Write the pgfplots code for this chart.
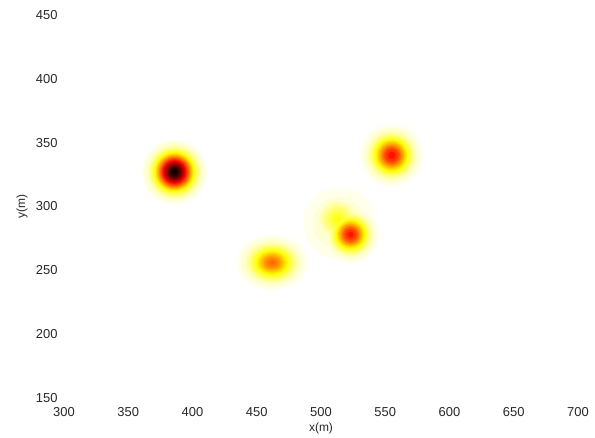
\documentclass[border=0pt]{standalone}
\usepackage{pgfplots}
\pgfplotsset{compat=1.18}
\usepackage{pgfplotstable}
\usepackage{fontspec}
\setmainfont{Liberation Sans}

% blob 1 (x y level radius-in-pt)
\pgfplotstableread{
x y v r
386 327 0.02 32.5
386 327 0.04 30.4
386 327 0.08 27.0
386 327 0.12 24.7
386 327 0.16 23.0
386 327 0.20 21.5
386 327 0.24 20.3
386 327 0.28 19.1
386 327 0.32 18.1
386 327 0.36 17.2
386 327 0.40 16.2
386 327 0.45 15.2
386 327 0.50 14.1
386 327 0.55 13.1
386 327 0.60 12.1
386 327 0.65 11.1
386 327 0.70 10.1
386 327 0.75 9.1
386 327 0.80 8.0
386 327 0.85 6.8
386 327 0.90 5.5
386 327 0.95 3.8
386 327 0.98 2.4
}\blobA

% blob 2
\pgfplotstableread{
x y v r
555 340 0.02 31.5
555 340 0.04 28.2
555 340 0.08 24.4
555 340 0.12 21.9
555 340 0.16 19.9
555 340 0.20 18.2
555 340 0.24 16.7
555 340 0.28 15.3
555 340 0.32 14.0
555 340 0.36 12.7
555 340 0.40 11.4
555 340 0.45 9.8
555 340 0.50 8.2
555 340 0.55 6.3
555 340 0.60 3.7
}\blobB

% blob 3 (broad halo + secondary bump + main peak), sorted by level
\pgfplotstableread{
x y v r
514 287 0.02 36.0
523 278 0.02 28.8
513 290 0.02 26.7
514 287 0.04 26.0
523 278 0.04 25.7
513 290 0.04 22.7
523 278 0.08 22.2
513 290 0.08 17.8
523 278 0.12 19.9
513 290 0.12 14.1
523 278 0.16 18.2
513 290 0.16 10.8
523 278 0.20 16.5
513 290 0.20 7.2
513 290 0.23 3.5
523 278 0.24 15.2
523 278 0.28 13.9
523 278 0.32 12.7
523 278 0.36 11.4
523 278 0.40 10.3
523 278 0.45 8.8
523 278 0.50 7.3
523 278 0.55 5.4
523 278 0.60 2.8
}\blobC

% blob 4
\pgfplotstableread{
x y v r
462 256 0.02 27.7
462 256 0.04 24.5
462 256 0.08 20.8
462 256 0.12 18.3
462 256 0.16 16.3
462 256 0.20 14.6
462 256 0.24 12.9
462 256 0.28 11.4
462 256 0.32 9.9
462 256 0.36 8.3
462 256 0.40 6.6
462 256 0.44 4.6
462 256 0.47 2.3
}\blobD

\begin{document}
\begin{tikzpicture}
\useasboundingbox (0,0) rectangle (595bp,438bp);
\begin{axis}[
  at={(64bp,40bp)}, anchor=south west,
  scale only axis, width=514bp, height=383bp,
  xmin=300, xmax=700, ymin=150, ymax=450,
  xtick={300,350,...,700}, ytick={150,200,...,450},
  axis line style={draw=none},
  major tick length=0pt,
  /pgf/number format/assume math mode=true,
  tick label style={font=\fontsize{13}{15}\selectfont, text=black!85},
  xticklabel style={yshift=-6pt},
  yticklabel style={xshift=-3pt},
  xlabel={x(m)}, ylabel={y(m)},
  every axis x label/.style={at={(axis description cs:0.5,-0.0783)}, anchor=center, font=\fontsize{12}{14}\selectfont, text=black!85},
  every axis y label/.style={at={(axis description cs:-0.0817,0.5)}, rotate=90, anchor=center, font=\fontsize{12}{14}\selectfont, text=black!85},
  colormap={hotr}{rgb=(1,1,1) rgb=(1,1,0.5) rgb=(1,1,0) rgb=(1,0.6667,0) rgb=(1,0.3333,0) rgb=(1,0,0) rgb=(0.6667,0,0) rgb=(0.3333,0,0) rgb=(0,0,0)},
  point meta min=0, point meta max=1,
  clip=false,
]
\pgfplotsset{blobstyle/.style={scatter, only marks, mark=*, point meta=explicit,
  scatter/use mapped color={draw=mapped color, fill=mapped color},
  visualization depends on={\thisrow{r} \as \rr},
  scatter/@pre marker code/.append style={/tikz/mark size=\rr}}}
\addplot[blobstyle, mark options={draw opacity=0}] table[x=x, y=y, meta=v] {\blobA};
\addplot[blobstyle, mark options={draw opacity=0}] table[x=x, y=y, meta=v] {\blobB};
\addplot[blobstyle, mark options={draw opacity=0}] table[x=x, y=y, meta=v] {\blobC};
\addplot[blobstyle, mark options={draw opacity=0, xscale=1.3}] table[x=x, y=y, meta=v] {\blobD};
\end{axis}
\end{tikzpicture}
\end{document}
